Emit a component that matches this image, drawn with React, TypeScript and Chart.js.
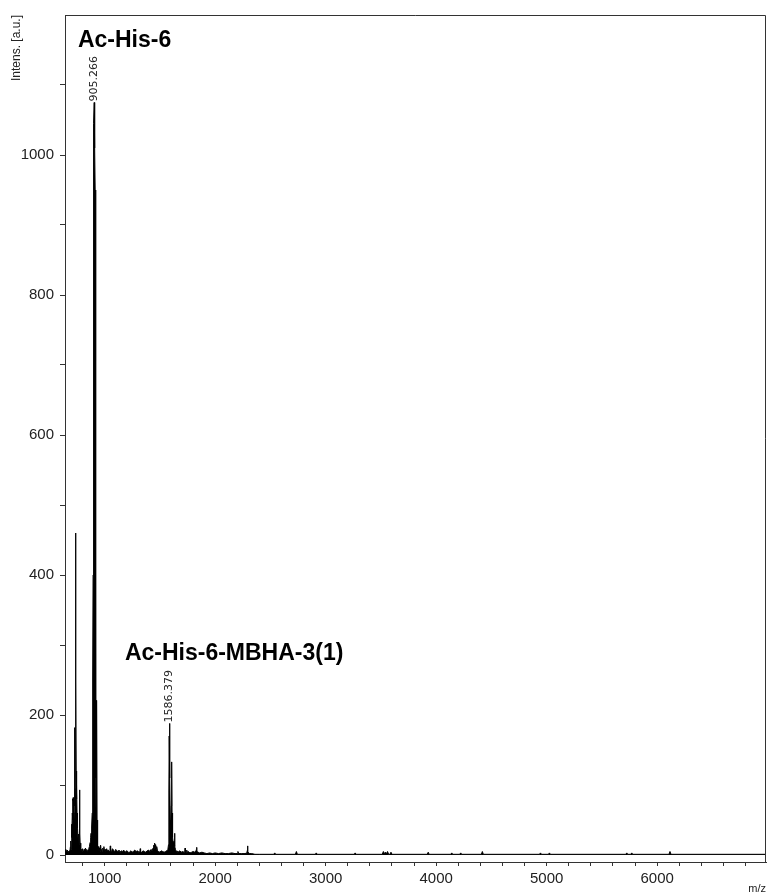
import React, { useEffect, useRef } from 'react';
import { Chart, registerables } from 'chart.js';

Chart.register(...registerables);

// ---- spectrum data (m/z, intensity in a.u.) ----
const spectrumMz = [
  // 640 - 800
  641, 648, 655, 662, 670, 678, 685, 690, 693, 697,
  700, 702, 704, 707, 709, 711, 713, 715, 717, 719,
  721, 724, 727, 729, 731, 734, 736, 738, 740, 742,
  744, 746, 748, 750, 752, 754, 757, 760, 763, 766,
  769, 772, 774, 776, 779, 782, 785, 790, 795,
  // 800 - 1000
  800, 805, 810, 815, 820, 826, 832, 838, 844, 850,
  856, 862, 868, 873, 877, 880, 884, 887, 890, 893,
  895, 897, 898, 899, 901, 903, 905.3, 908, 911, 914,
  917, 919, 921, 923, 925, 927, 929, 931, 934,
  938, 943, 948, 953, 958, 963, 968, 973, 978, 983,
  988, 993, 997,
  // 1000 - 1580
  1003, 1010, 1018, 1025, 1033, 1040, 1048, 1051, 1054, 1062,
  1070, 1080, 1090, 1100, 1110, 1120, 1130, 1140, 1150, 1160,
  1172, 1185, 1198, 1210, 1222, 1235, 1248, 1260, 1272, 1285,
  1298, 1310, 1319, 1322, 1325, 1335, 1348, 1360, 1372, 1385,
  1398, 1410, 1420, 1430, 1438, 1444, 1449, 1452, 1456, 1461,
  1466, 1471, 1478, 1488, 1500, 1512, 1525, 1538, 1550, 1562,
  1572, 1578,
  // 1580 - 1700
  1580, 1582, 1584, 1586.4, 1588.5, 1591, 1594, 1597, 1600, 1603,
  1605, 1608, 1610, 1613, 1616, 1620, 1624, 1628, 1632, 1636,
  1641, 1647, 1654, 1662, 1671, 1681, 1692,
  // 1700 - 2400
  1705, 1718, 1725, 1728, 1731, 1740, 1743, 1746, 1758, 1772,
  1788, 1800, 1815, 1826, 1830, 1833, 1836, 1845, 1860, 1880,
  1900, 1925, 1950, 1975, 2000, 2030, 2060, 2090, 2120, 2150,
  2180, 2200, 2206, 2212, 2240, 2270, 2287, 2290, 2293, 2296,
  2300, 2310, 2330, 2360, 2400,
  // 2400 - end
  2530, 2539, 2548, 2726, 2735, 2744, 2906, 2915, 2924, 3258,
  3267, 3276, 3512, 3522, 3530, 3540, 3550, 3560, 3570, 3582,
  3591, 3600, 3919, 3928, 3937, 4132, 4141, 4150, 4213, 4222,
  4231, 4409, 4418, 4427, 4935, 4944, 4953, 5016, 5025, 5034,
  5716, 5725, 5734, 5761, 5770, 5779, 6107, 6116, 6125, 6985,
];

const spectrumIntensity = [
  // 640 - 800
  6, 8, 5, 7, 4, 6, 5, 12, 20, 8,
  30, 44, 25, 60, 80, 50, 78, 82, 40, 75,
  30, 60, 110, 182, 70, 95, 200, 460, 250, 120,
  102, 80, 101, 60, 40, 55, 38, 20, 12, 30,
  15, 40, 93, 30, 12, 17, 6, 8, 5,
  // 800 - 1000
  9, 6, 4, 8, 5, 10, 6, 8, 5, 7,
  9, 12, 18, 25, 31, 22, 40, 60, 120, 250,
  400, 546, 470, 800, 980, 1045, 1075, 1060, 1010, 950,
  720, 380, 110, 40, 25, 45, 221, 50, 15,
  8, 12, 6, 10, 5, 14, 6, 8, 5, 10,
  7, 12, 6,
  // 1000 - 1580
  8, 5, 9, 6, 7, 5, 8, 13, 6, 5,
  9, 7, 4, 8, 6, 5, 7, 4, 6, 5,
  7, 4, 6, 5, 3, 6, 4, 5, 7, 5,
  6, 4, 5, 9, 5, 4, 6, 5, 4, 6,
  7, 5, 8, 6, 10, 14, 9, 17, 11, 15,
  8, 12, 6, 5, 4, 6, 5, 4, 5, 6,
  8, 15,
  // 1580 - 1700
  30, 90, 170, 188, 180, 110, 50, 38, 45, 70,
  90, 133, 60, 30, 25, 18, 14, 20, 31, 12,
  8, 5, 6, 4, 5, 6, 4,
  // 1700 - 2400
  5, 4, 6, 10, 5, 4, 7, 4, 5, 3,
  4, 5, 4, 6, 8, 11, 5, 4, 3, 4,
  3, 2, 3, 2, 3, 2, 3, 2, 2, 3,
  2, 2, 5, 2, 2, 2, 3, 6, 13, 5,
  4, 2, 2, 1, 1,
  // 2400 - end
  1, 3, 1, 1, 5, 1, 1, 3, 1, 1,
  3, 1, 1, 5, 2, 4, 2, 5, 1, 1,
  4, 1, 1, 4, 1, 1, 3, 1, 1, 3,
  1, 1, 5, 1, 1, 3, 1, 1, 3, 1,
  1, 3, 1, 1, 3, 1, 1, 5, 1, 1,
];

// ---- axes ----
const xTickValues = [800, 1000, 1200, 1400, 1600, 1800, 2000, 2200, 2400, 2600, 2800, 3000, 3200, 3400, 3600, 3800, 4000, 4200, 4400, 4600, 4800, 5000, 5200, 5400, 5600, 5800, 6000, 6200, 6400, 6600, 6800];
const xLabelValues = [1000, 2000, 3000, 4000, 5000, 6000];
const yTickValues = [0, 100, 200, 300, 400, 500, 600, 700, 800, 900, 1000, 1100];
const yLabelValues = [0, 200, 400, 600, 800, 1000];
const xTitle = 'm/z';
const yTitle = 'Intens. [a.u.]';

// ---- annotations ----
const peakLabelMz = [905.266, 1586.379];
const peakLabelIntensity = [1075, 188];
const compoundNames = ['Ac-His-6', 'Ac-His-6-MBHA-3(1)'];
const compoundAnchorMz = [758, 1183];
const compoundAnchorIntensity = [1155, 278];

const annotationPlugin = {
  id: 'spectrumAnnotations',
  afterDatasetsDraw(chart: any) {
    const { ctx, chartArea, scales } = chart;
    const xs = scales.x;
    const ys = scales.y;
    ctx.save();
    // frame: top and right edges
    ctx.strokeStyle = '#333';
    ctx.lineWidth = 1;
    ctx.beginPath();
    ctx.moveTo(chartArea.left, Math.round(chartArea.top) + 0.5);
    ctx.lineTo(Math.round(chartArea.right) - 0.5, Math.round(chartArea.top) + 0.5);
    ctx.lineTo(Math.round(chartArea.right) - 0.5, chartArea.bottom);
    ctx.stroke();

    // peak m/z labels
    ctx.fillStyle = '#222';
    ctx.font = '11px "DejaVu Sans"';
    peakLabelMz.forEach((mz, i) => {
      const px = xs.getPixelForValue(mz);
      const py = ys.getPixelForValue(peakLabelIntensity[i]);
      ctx.save();
      ctx.translate(px, py - 1);
      ctx.rotate(-Math.PI / 2);
      ctx.textAlign = 'left';
      ctx.textBaseline = 'middle';
      ctx.fillText(mz.toFixed(3), 0, 0);
      ctx.restore();
    });

    // compound names
    ctx.fillStyle = '#000';
    ctx.font = 'bold 23px "Liberation Sans"';
    ctx.textAlign = 'left';
    ctx.textBaseline = 'alphabetic';
    compoundNames.forEach((name, i) => {
      ctx.fillText(
        name,
        xs.getPixelForValue(compoundAnchorMz[i]),
        ys.getPixelForValue(compoundAnchorIntensity[i])
      );
    });
    ctx.restore();
  },
};

export default function App() {
  const canvasRef = useRef<HTMLCanvasElement | null>(null);

  useEffect(() => {
    if (!canvasRef.current) return;
    Chart.defaults.font.family = '"Liberation Sans", Arial, sans-serif';
    const points = spectrumMz.map((x, i) => ({ x, y: spectrumIntensity[i] }));
    const chart = new Chart(canvasRef.current, {
      type: 'line',
      data: {
        datasets: [
          {
            data: points,
            borderColor: '#000',
            backgroundColor: '#000',
            borderWidth: 1,
            borderJoinStyle: 'bevel',
            pointRadius: 0,
            fill: 'origin',
            tension: 0,
          },
        ],
      },
      options: {
        animation: false,
        responsive: false,
        devicePixelRatio: 1,
        parsing: false as any,
        layout: { padding: { top: 13, right: 3, left: 0, bottom: 0 } },
        plugins: {
          legend: { display: false },
          tooltip: { enabled: false },
        },
        scales: {
          x: {
            type: 'linear',
            position: 'bottom',
            min: 641,
            max: 6985,
            afterBuildTicks: (axis: any) => {
              axis.ticks = xTickValues.map((v) => ({ value: v }));
            },
            afterFit: (axis: any) => {
              axis.height = 32;
            },
            ticks: {
              autoSkip: false,
              maxRotation: 0,
              padding: 4,
              color: '#222',
              font: { size: 15, family: '"Liberation Sans", Arial, sans-serif' },
              callback: (v: any) => (xLabelValues.includes(Number(v)) ? String(v) : ''),
            },
            grid: {
              drawOnChartArea: false,
              drawTicks: true,
              tickLength: 4,
              color: '#333',
            },
            border: { display: true, color: '#333', width: 1 },
            title: {
              display: true,
              text: xTitle,
              align: 'end',
              color: '#222',
              padding: { top: 0, bottom: -2 },
              font: { size: 11, family: '"Liberation Sans", Arial, sans-serif' },
            },
          },
          y: {
            type: 'linear',
            position: 'left',
            min: -10,
            max: 1200,
            afterBuildTicks: (axis: any) => {
              axis.ticks = yTickValues.map((v) => ({ value: v }));
            },
            afterFit: (axis: any) => {
              axis.width = 65;
            },
            ticks: {
              autoSkip: false,
              padding: 6,
              color: '#222',
              font: { size: 15, family: '"Liberation Sans", Arial, sans-serif' },
              callback: (v: any) => (yLabelValues.includes(Number(v)) ? String(v) : ''),
            },
            grid: {
              drawOnChartArea: false,
              drawTicks: true,
              tickLength: 5,
              color: '#333',
            },
            border: { display: true, color: '#333', width: 1 },
            title: {
              display: true,
              text: yTitle,
              align: 'end',
              color: '#222',
              padding: { top: 9, bottom: 0 },
              font: { size: 12, family: '"Liberation Sans", Arial, sans-serif' },
            },
          },
        },
      },
      plugins: [annotationPlugin],
    } as any);
    return () => chart.destroy();
  }, []);

  return (
    <div style={{ position: 'fixed', left: 0, top: 0, width: 769, height: 894, background: '#fff' }}>
      <canvas ref={canvasRef} width={769} height={894} style={{ display: 'block', width: 769, height: 894 }} />
    </div>
  );
}
